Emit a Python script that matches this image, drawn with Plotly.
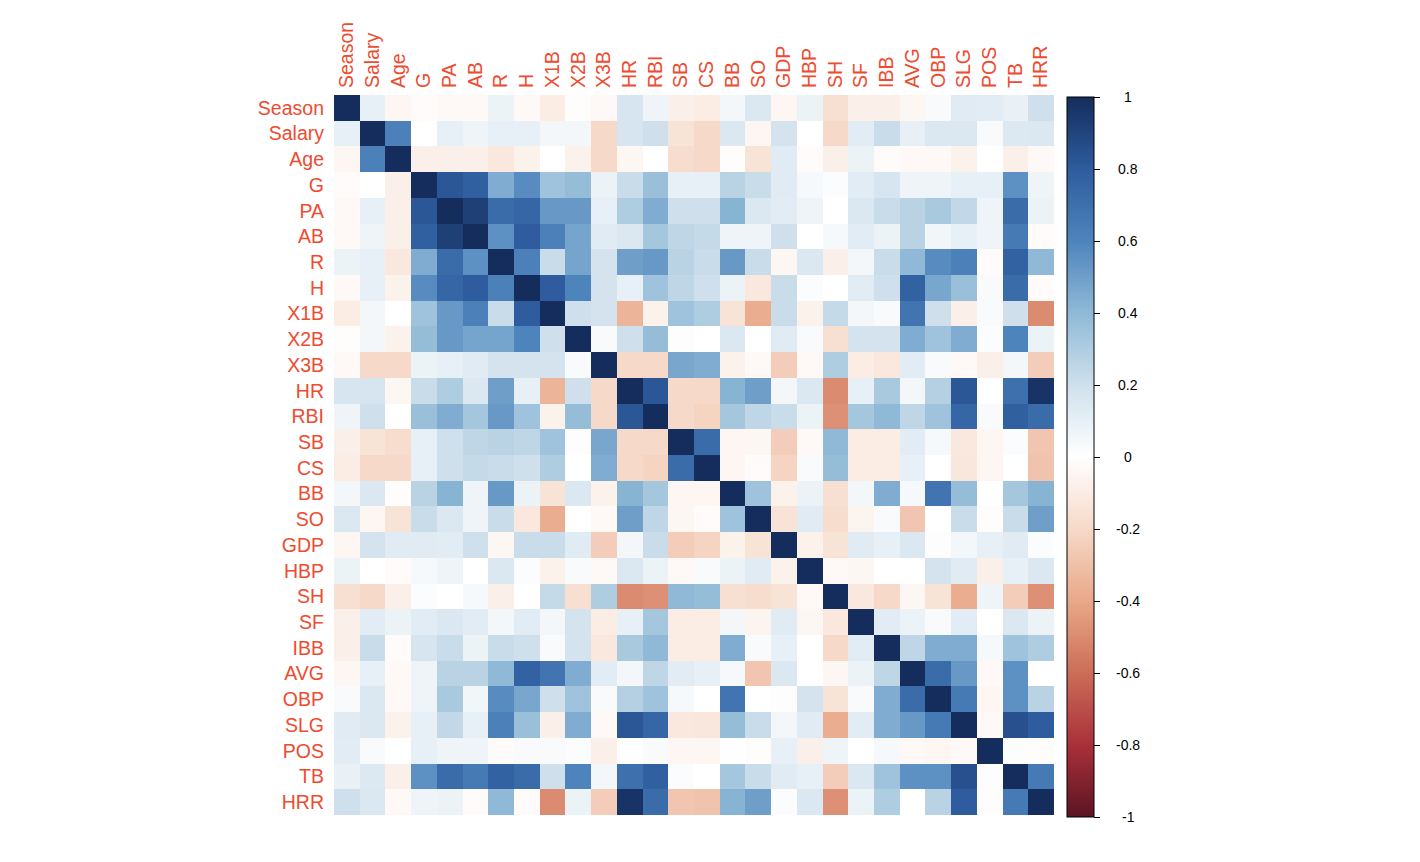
import plotly.graph_objects as go

labels = ["Season", "Salary", "Age", "G", "PA", "AB", "R", "H", "X1B", "X2B", "X3B",
          "HR", "RBI", "SB", "CS", "BB", "SO", "GDP", "HBP", "SH", "SF", "IBB",
          "AVG", "OBP", "SLG", "POS", "TB", "HRR"]

# Upper triangle of the correlation matrix: each row holds values for the
# columns to the right of the diagonal.
up_Season = [0.10, -0.05, -0.02, -0.03, -0.03, 0.08, -0.03, -0.10, -0.01, -0.03, 0.17, 0.07, -0.08,
             -0.10, 0.05, 0.15, -0.05, 0.08, -0.17, -0.08, -0.08, -0.04, 0.03, 0.13, 0.12, 0.09, 0.20]
up_Salary = [0.62, 0.00, 0.10, 0.07, 0.10, 0.10, 0.05, 0.05, -0.20, 0.17, 0.20, -0.15,
             -0.20, 0.15, -0.05, 0.18, 0.00, -0.20, 0.12, 0.22, 0.10, 0.15, 0.15, 0.03, 0.14, 0.15]
up_Age = [-0.08, -0.08, -0.08, -0.12, -0.07, 0.00, -0.07, -0.20, -0.04, 0.00, -0.18,
          -0.20, -0.01, -0.15, 0.13, -0.02, -0.08, 0.08, -0.02, -0.03, -0.03, -0.07, 0.00, -0.08, -0.03]
up_G = [0.82, 0.78, 0.45, 0.57, 0.35, 0.38, 0.08, 0.22, 0.37, 0.10,
        0.10, 0.27, 0.22, 0.13, 0.04, 0.02, 0.12, 0.17, 0.07, 0.07, 0.10, 0.10, 0.55, 0.07]
up_PA = [0.92, 0.72, 0.75, 0.52, 0.52, 0.10, 0.30, 0.45, 0.20,
         0.20, 0.42, 0.15, 0.12, 0.07, 0.00, 0.15, 0.22, 0.27, 0.32, 0.24, 0.07, 0.72, 0.08]
up_AB = [0.55, 0.80, 0.62, 0.48, 0.13, 0.15, 0.33, 0.25,
         0.23, 0.07, 0.07, 0.20, 0.00, 0.04, 0.12, 0.08, 0.27, 0.06, 0.10, 0.07, 0.65, -0.02]
up_R = [0.62, 0.22, 0.48, 0.18, 0.50, 0.52, 0.27,
        0.22, 0.52, 0.22, -0.04, 0.15, -0.08, 0.05, 0.22, 0.40, 0.57, 0.62, -0.02, 0.77, 0.40]
up_H = [0.80, 0.60, 0.18, 0.10, 0.35, 0.25,
        0.20, 0.08, -0.12, 0.22, 0.02, 0.00, 0.12, 0.20, 0.77, 0.47, 0.37, 0.03, 0.72, -0.02]
up_X1B = [0.20, 0.18, -0.35, -0.07, 0.35,
          0.30, -0.15, -0.38, 0.22, -0.07, 0.23, 0.05, 0.03, 0.68, 0.20, -0.08, 0.03, 0.20, -0.50]
up_X2B = [0.03, 0.20, 0.38, 0.01,
          0.00, 0.15, 0.00, 0.13, 0.03, -0.17, 0.18, 0.18, 0.45, 0.35, 0.45, 0.02, 0.60, 0.08]
up_X3B = [-0.20, -0.20, 0.47,
          0.45, -0.07, -0.03, -0.25, -0.03, 0.30, -0.10, -0.12, 0.12, 0.03, -0.03, -0.08, 0.05, -0.25]
up_HR = [0.82, -0.20,
         -0.20, 0.42, 0.50, 0.05, 0.15, -0.50, 0.10, 0.32, 0.05, 0.28, 0.82, 0.00, 0.70, 0.97]
up_RBI = [-0.20,
          -0.22, 0.33, 0.25, 0.22, 0.08, -0.48, 0.33, 0.40, 0.25, 0.35, 0.75, 0.03, 0.78, 0.72]
up_SB = [0.72, -0.05, -0.04, -0.25, -0.03, 0.40, -0.10, -0.10, 0.12, 0.04, -0.12, -0.05, 0.02, -0.28]
up_CS = [-0.05, -0.02, -0.22, 0.03, 0.38, -0.10, -0.10, 0.10, 0.00, -0.13, -0.05, 0.00, -0.29]
up_BB = [0.35, -0.07, 0.08, -0.17, 0.05, 0.45, 0.04, 0.68, 0.38, 0.00, 0.33, 0.42]
up_SO = [-0.15, 0.13, -0.18, -0.06, 0.03, -0.28, 0.00, 0.22, -0.01, 0.22, 0.50]
up_GDP = [-0.07, -0.15, 0.13, 0.10, 0.15, 0.01, 0.05, 0.10, 0.13, 0.02]
up_HBP = [-0.03, -0.04, 0.00, 0.00, 0.18, 0.13, -0.08, 0.10, 0.15]
up_SH = [-0.12, -0.20, -0.04, -0.15, -0.38, 0.07, -0.25, -0.48]
up_SF = [0.12, 0.08, 0.03, 0.12, 0.00, 0.15, 0.08]
up_IBB = [0.25, 0.45, 0.45, 0.04, 0.35, 0.30]
up_AVG = [0.72, 0.52, -0.03, 0.55, 0.00]
up_OBP = [0.65, -0.05, 0.55, 0.27]
up_SLG = [-0.03, 0.85, 0.80]
up_POS = [0.01, -0.01]
up_TB = [0.65]
up_HRR = []

cbar_ticks = [1, 0.8, 0.6, 0.4, 0.2, 0, -0.2, -0.4, -0.6, -0.8, -1]
cbar_text = ["1", "0.8", "0.6", "0.4", "0.2", "0", "-0.2", "-0.4", "-0.6", "-0.8", "-1"]

upper_rows = [up_Season, up_Salary, up_Age, up_G, up_PA, up_AB, up_R, up_H, up_X1B, up_X2B,
              up_X3B, up_HR, up_RBI, up_SB, up_CS, up_BB, up_SO, up_GDP, up_HBP, up_SH,
              up_SF, up_IBB, up_AVG, up_OBP, up_SLG, up_POS, up_TB, up_HRR]

n = len(labels)
z = [[1.0] * n for _ in range(n)]
for i, row in enumerate(upper_rows):
    for k, v in enumerate(row):
        j = i + 1 + k
        z[i][j] = v
        z[j][i] = v

# diverging red-white-blue palette as rendered in the reference
colorscale = [
    [0.0, "#5C1423"], [0.1, "#A9303A"], [0.2, "#CC6D58"], [0.3, "#E9A888"],
    [0.4, "#F6D9C9"], [0.5, "#FFFFFF"], [0.6, "#CFE0EC"], [0.7, "#8FB9D6"],
    [0.8, "#4E84BC"], [0.9, "#2E5C9E"], [1.0, "#142D5C"],
]

label_color = "#EE4B30"
font_family = "Liberation Sans, Arial, sans-serif"

# the page body adds an 8px offset, so margins are compensated
OFF = 8
W, H = 1420, 862
ML, MR, MT, MB = 334 - OFF, 366 + OFF, 95 - OFF, 47 + OFF
plot_w = W - ML - MR
plot_h = H - MT - MB

# colorbar geometry in page pixels
cb_left, cb_top, cb_bottom, cb_thick = 1067 - OFF, 97 - OFF, 817 - OFF, 27
cb_len = cb_bottom - cb_top
cb_center_paper = (H - MB - (cb_top + cb_bottom) / 2) / plot_h

fig = go.Figure(go.Heatmap(
    z=z, x=labels, y=labels,
    zmin=-1, zmax=1,
    colorscale=colorscale,
    xgap=0, ygap=0,
    colorbar=dict(
        x=(cb_left - ML) / plot_w, xanchor="left", xpad=0,
        y=cb_center_paper, yanchor="middle", ypad=0,
        len=cb_len, lenmode="pixels",
        thickness=cb_thick, thicknessmode="pixels",
        outlinecolor="black", outlinewidth=1,
        tickmode="array", tickvals=cbar_ticks, ticktext=[""] * len(cbar_ticks),
        ticks="outside", ticklen=6, tickcolor="black", tickwidth=1,
    ),
    hovertemplate="%{y} / %{x}: %{z:.2f}<extra></extra>",
))

# colorbar labels, centred like the reference
for v, t in zip(cbar_ticks, cbar_text):
    ypix = cb_top + (1 - v) / 2 * cb_len
    fig.add_annotation(
        x=(1128 - OFF - ML) / plot_w, y=(H - MB - ypix) / plot_h,
        xref="paper", yref="paper", text=t, showarrow=False,
        xanchor="center", yanchor="middle",
        font=dict(family=font_family, size=14, color="black"),
    )

fig.update_layout(
    width=W, height=H,
    margin=dict(l=ML, r=MR, t=MT, b=MB, autoexpand=False),
    paper_bgcolor="white", plot_bgcolor="white",
    xaxis=dict(side="top", tickangle=-90, showgrid=False, zeroline=False,
               ticks="", ticklabelstandoff=6,
               tickfont=dict(family=font_family, size=19.5, color=label_color)),
    yaxis=dict(autorange="reversed", showgrid=False, zeroline=False,
               ticks="", ticklabelstandoff=9,
               tickfont=dict(family=font_family, size=19.5, color=label_color)),
)

fig.write_html("out.html")
